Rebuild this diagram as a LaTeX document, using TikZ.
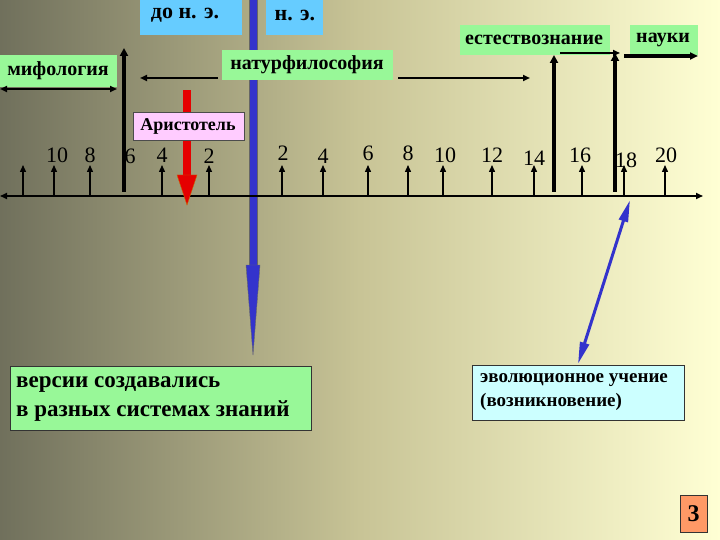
\documentclass[tikz,border=0pt]{standalone}
\usepackage{fontspec}
\setmainfont{Liberation Serif}
\usetikzlibrary{arrows.meta}
\definecolor{bgL}{RGB}{112,112,92}
\definecolor{bgM}{RGB}{200,196,150}
\definecolor{bgR}{RGB}{255,255,212}
\definecolor{gbox}{RGB}{152,248,152}
\definecolor{bbox}{RGB}{102,204,255}
\definecolor{pbox}{RGB}{255,204,255}
\definecolor{cbox}{RGB}{204,255,255}
\definecolor{obox}{RGB}{255,153,102}
\definecolor{ablue}{RGB}{51,51,204}
\tikzset{
 lbl/.style={inner sep=0pt, anchor=center},
 num/.style={font=\fontsize{22}{22}\selectfont, inner sep=0pt},
 tick/.style={-{Triangle[length=7pt,width=6pt]}, line width=1.4pt},
 thk/.style={-{Triangle[length=8pt,width=8pt]}, line width=3.8pt},
 thin/.style={-{Triangle[length=7pt,width=6pt]}, line width=1.8pt}
}
\begin{document}
\begin{tikzpicture}[x=1pt,y=-1pt]
\useasboundingbox (0,0) rectangle (720,540);
\shade[left color=bgL, right color=bgR, middle color=bgM] (0,0) rectangle (720,540);
% blue bar
\fill[ablue] (249,0) rectangle (257,265);
\draw[black!60, line width=0.4pt] (249,0) -- (249,265) (257,0) -- (257,265);
\fill[ablue, draw=black!60, line width=0.4pt] (246,265) -- (260,265) -- (253,355) -- cycle;
% boxes
\fill[bbox] (140,0) rectangle (242,35); \node[lbl,font=\bfseries\fontsize{22}{22}\selectfont] (dne) at (185,15) {до н. э.};
\fill[bbox] (266,0) rectangle (323,35); \node[lbl,font=\bfseries\fontsize{22}{22}\selectfont] (ne) at (295,15) {н. э.};
\fill[gbox] (0,55) rectangle (117,87); \node[lbl,font=\bfseries\fontsize{20}{20}\selectfont] (mif) at (58,71) {мифология};
\fill[gbox] (222,50) rectangle (393,80); \node[lbl,font=\bfseries\fontsize{20}{20}\selectfont] (nat) at (307,65) {натурфилософия};
\fill[gbox] (460,25) rectangle (610,55); \node[lbl,font=\bfseries\fontsize{20}{20}\selectfont] (est) at (534,40) {естествознание};
\fill[gbox] (630,25) rectangle (698,55); \node[lbl,font=\bfseries\fontsize{20}{20}\selectfont] (nau) at (663,40) {науки};
% axis
\coordinate (axL) at (0,196); \coordinate (axR) at (703,196);
\draw[{Triangle[length=7pt,width=6pt]}-{Triangle[length=7pt,width=6pt]}, line width=1.6pt] (axL) -- (axR);
% ticks
\foreach \x in {23,54,90,162,209,282,323,368,408,443,492,534,582,624,665}
  \draw[tick] (\x,196) -- (\x,165);
\foreach \x/\y/\t in {57/155/10,90/155/8,130/156/6,162/155/4,209/156/2,283/153/2,323/156/4,368/153/6,408/153/8,445/155/10,492/155/12,534/158/14,580/155/16,626/160/18,666/155/20}
  \node[num] at (\x,\y) {\t};
% thick markers
\draw[thk] (124,192) -- (124,48);
\draw[thk] (554,192) -- (554,55);
\draw[thk] (615,192) -- (615,53);
% direction arrows
\coordinate (mL) at (0,89); \coordinate (mR) at (117,89);
\draw[{Triangle[length=7pt,width=6pt]}-{Triangle[length=7pt,width=6pt]}, line width=1.8pt] (mL) -- (mR);
\coordinate (n1) at (218,78); \coordinate (n2) at (140,78);
\draw[thin] (n1) -- (n2);
\coordinate (n3) at (398,78); \coordinate (n4) at (530,78);
\draw[thin] (n3) -- (n4);
\coordinate (e1) at (560,53); \coordinate (e2) at (620,53);
\draw[thin] (e1) -- (e2);
\coordinate (s1) at (624,56); \coordinate (s2) at (698,56);
\draw[-{Triangle[length=8pt,width=7pt]}, line width=3.5pt] (s1) -- (s2);
% red arrow
\fill[red!90!black] (183,90) rectangle (191,175);
\fill[red!90!black, draw=orange!80!black] (177,175) -- (197,175) -- (187,205) -- cycle;
\fill[pbox, draw=black!70] (133,112) rectangle (244,140);
\node[lbl,font=\bfseries\fontsize{18}{18}\selectfont] (ari) at (188,126) {Аристотель};
% bottom boxes
\node[draw=black!80, fill=gbox, line width=0.6pt, minimum width=301pt, minimum height=64pt, inner sep=0pt] (ver) at (160.5,398) {};
\node[font=\bfseries\fontsize{23}{29}\selectfont, align=left, anchor=west, inner sep=0pt] at (16,399) {версии создавались\\в разных системах знаний};
\node[draw=black!80, fill=cbox, line width=0.6pt, minimum width=212pt, minimum height=55pt, inner sep=0pt] (evo) at (578,392.5) {};
\node[font=\bfseries\fontsize{19}{24}\selectfont, align=left, anchor=west, inner sep=0pt] at (480,392) {эволюционное учение\\(возникновение)};
% blue double arrow
\coordinate (d1) at (630,200); \coordinate (d2) at (578,364);
\draw[ablue, line width=3pt, {Triangle[length=22pt,width=9pt]}-{Triangle[length=22pt,width=9pt]}] (d1) -- (d2);
% page num
\node[draw=black!80, fill=obox, minimum width=27pt, minimum height=37pt, inner sep=0pt, font=\bfseries\fontsize{24}{24}\selectfont] (pg) at (693.5,513.5) {3};
\end{tikzpicture}
\end{document}
